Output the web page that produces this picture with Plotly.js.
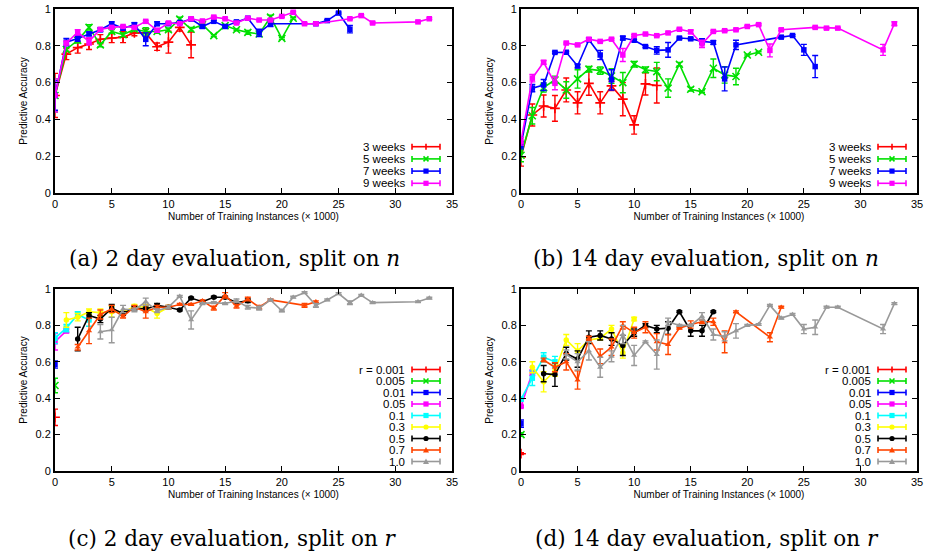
<!DOCTYPE html>
<html>
<head>
<meta charset="utf-8">
<script src="https://cdn.plot.ly/plotly-3.0.1.min.js"></script>
<style>html,body{margin:0;padding:0;background:#fff;}#chart{width:925px;height:554px;}</style>
</head>
<body>
<div id="chart"></div>
<script>
// ---------- tick labels ----------
const xTickVals = [0, 5, 10, 15, 20, 25, 30, 35];
const xTickText = ['0', '5', '10', '15', '20', '25', '30', '35'];
const yTickVals = [0, 0.2, 0.4, 0.6, 0.8, 1];
const yTickText = ['0', '0.2', '0.4', '0.6', '0.8', '1'];
const xTitle = 'Number of Training Instances (\u00d7 1000)';
const yTitle = 'Predictive Accuracy';
const captions = ['(a) 2 day evaluation, split on <i>n</i>', '(b) 14 day evaluation, split on <i>n</i>',
                  '(c) 2 day evaluation, split on <i>r</i>', '(d) 14 day evaluation, split on <i>r</i>'];
const weekNames = ['3 weeks', '5 weeks', '7 weeks', '9 weeks'];
const rNames = ['r = 0.001', '0.005', '0.01', '0.05', '0.1', '0.3', '0.5', '0.7', '1.0'];

// ---------- (a) 2 day, split on n ----------
const a3X = [0,1,2,3,4,5,6,7,8,9,10,11,12];
const a3Y = [0.53,0.755,0.79,0.81,0.836,0.842,0.847,0.87,0.87,0.795,0.82,0.90,0.805];
const a3E = [0.12,0.03,0.03,0.03,0.025,0.025,0.03,0.015,0.02,0.02,0.06,0.02,0.07];
const a5X = [0,1,2,3,4,5,6,7,8,9,10,11,12,13,14,15,16,17,18,19,20,21];
const a5Y = [0.53,0.78,0.83,0.90,0.805,0.878,0.86,0.89,0.878,0.878,0.887,0.945,0.89,0.915,0.855,0.91,0.887,0.873,0.864,0.956,0.84,0.95];
const a5E = [0.09,0.01,0.015,0.015,0.01,0.01,0.01,0.01,0.02,0.01,0.01,0.01,0.01,0.005,0.005,0.005,0.005,0.01,0.01,0.01,0.005,0.005];
const a7X = [0,1,2,3,4,5,6,7,8,9,10,11,12,13,14,15,16,17,18,19,23,24,25,26];
const a7Y = [0.53,0.82,0.84,0.865,0.887,0.92,0.896,0.915,0.835,0.92,0.92,0.927,0.945,0.905,0.933,0.905,0.93,0.95,0.87,0.92,0.92,0.937,0.978,0.89];
const a7E = [0.08,0.02,0.015,0.01,0.01,0.01,0.01,0.01,0.035,0.01,0.005,0.005,0.005,0.01,0.005,0.005,0.005,0.005,0.02,0.015,0.005,0.005,0.005,0.02];
const a9X = [0,1,2,3,4,5,6,7,8,9,10,11,12,13,14,15,16,17,18,19,20,21,22,23,26,27,28,32,33];
const a9Y = [0.53,0.815,0.873,0.824,0.89,0.9,0.905,0.9,0.933,0.884,0.924,0.92,0.947,0.935,0.956,0.947,0.924,0.95,0.94,0.94,0.96,0.982,0.92,0.92,0.947,0.964,0.924,0.93,0.947];
const a9E = [0.09,0.01,0.015,0.02,0.005,0.005,0.005,0.005,0.005,0.01,0.005,0.005,0.005,0.005,0.005,0.005,0.005,0.005,0.005,0.005,0.005,0.005,0.005,0.005,0.005,0.005,0.005,0.005,0.005];

// ---------- (b) 14 day, split on n ----------
const b3X = [0,1,2,3,4,5,6,7,8,9,10,11,12];
const b3Y = [0.196,0.424,0.473,0.46,0.56,0.49,0.596,0.49,0.582,0.51,0.37,0.593,0.584];
const b3E = [0.05,0.06,0.06,0.07,0.065,0.06,0.065,0.06,0.025,0.09,0.05,0.06,0.095];
const b5X = [0,1,2,3,4,5,6,7,8,9,10,11,12,13,14,15,16,17,18,19,20,21];
const b5Y = [0.205,0.42,0.573,0.615,0.56,0.62,0.673,0.665,0.636,0.6,0.7,0.67,0.66,0.57,0.7,0.564,0.55,0.678,0.642,0.633,0.75,0.765];
const b5E = [0.035,0.045,0.025,0.02,0.045,0.05,0.015,0.02,0.04,0.055,0.015,0.015,0.05,0.05,0.01,0.01,0.005,0.05,0.045,0.045,0.005,0.005];
const b7X = [0,1,2,3,4,5,6,7,8,9,10,11,12,13,14,15,16,17,18,19,23,24,25,26];
const b7Y = [0.26,0.57,0.587,0.764,0.765,0.69,0.833,0.75,0.615,0.842,0.83,0.796,0.775,0.778,0.842,0.838,0.824,0.818,0.62,0.805,0.847,0.856,0.778,0.687];
const b7E = [0.02,0.02,0.03,0.005,0.005,0.01,0.01,0.025,0.055,0.01,0.005,0.005,0.02,0.04,0.005,0.005,0.015,0.01,0.065,0.025,0.005,0.005,0.03,0.06];
const b9X = [0,1,2,3,4,5,6,7,8,9,10,11,12,13,14,15,16,17,18,19,20,21,22,23,26,27,28,32,33];
const b9Y = [0.28,0.624,0.71,0.596,0.815,0.805,0.836,0.824,0.836,0.75,0.856,0.864,0.855,0.87,0.89,0.876,0.81,0.878,0.882,0.887,0.905,0.915,0.775,0.887,0.9,0.896,0.896,0.778,0.92];
const b9E = [0.02,0.02,0.01,0.035,0.005,0.005,0.005,0.005,0.005,0.035,0.005,0.005,0.005,0.005,0.005,0.01,0.02,0.005,0.005,0.005,0.005,0.005,0.035,0.005,0.005,0.005,0.005,0.03,0.01];

// ---------- (c) 2 day, split on r ----------
const c001X = [0];  const c001Y = [0.295]; const c001E = [0.045];
const c005X = [0];  const c005Y = [0.47];  const c005E = [0.04];
const c01X = [0];   const c01Y = [0.585];  const c01E = [0.02];
const c05X = [0,1]; const c05Y = [0.71,0.77]; const c05E = [0.045,0.01];
const c1X = [0,1,2,3]; const c1Y = [0.73,0.785,0.86,0.83]; const c1E = [0.03,0.02,0.015,0.035];
const c3X = [1,2,3,4,5,6,7,8,9,10];
const c3Y = [0.83,0.845,0.875,0.87,0.875,0.87,0.905,0.9,0.865,0.9];
const c3E = [0.04,0.02,0.015,0.02,0.03,0.01,0.01,0.015,0.025,0.01];
const c5X = [2,3,4,5,6,7,8,9,10,11,12,13,14,15,16,17];
const c5Y = [0.725,0.855,0.835,0.895,0.865,0.895,0.89,0.91,0.9,0.885,0.95,0.93,0.955,0.955,0.925,0.935];
const c5E = [0.065,0.015,0.02,0.02,0.01,0.01,0.01,0.01,0.005,0.005,0.005,0.005,0.005,0.005,0.005,0.01];
const c7X = [2,3,4,5,6,7,8,9,10,11,12,13,14,15,16,17,18,19,22,23];
const c7Y = [0.68,0.77,0.86,0.89,0.85,0.9,0.875,0.9,0.9,0.915,0.915,0.935,0.895,0.965,0.905,0.945,0.9,0.94,0.91,0.93];
const c7E = [0.015,0.07,0.025,0.02,0.01,0.01,0.035,0.01,0.01,0.005,0.005,0.005,0.01,0.015,0.01,0.01,0.01,0.005,0.01,0.005];
const c10X = [4,5,6,7,8,9,10,11,12,13,14,15,16,17,18,19,20,21,22,23,24,25,26,27,28,32,33];
const c10Y = [0.765,0.775,0.89,0.885,0.93,0.88,0.9,0.96,0.83,0.92,0.925,0.92,0.935,0.9,0.895,0.94,0.88,0.955,0.98,0.91,0.94,0.975,0.925,0.965,0.925,0.93,0.95];
const c10E = [0.04,0.07,0.02,0.01,0.02,0.01,0.01,0.005,0.05,0.005,0.005,0.005,0.01,0.01,0.01,0.005,0.005,0.005,0.005,0.01,0.005,0.005,0.01,0.005,0.005,0.005,0.005];

// ---------- (d) 14 day, split on r ----------
const d001X = [0];  const d001Y = [0.095]; const d001E = [0.005];
const d005X = [0];  const d005Y = [0.2];   const d005E = [0.01];
const d01X = [0];   const d01Y = [0.26];   const d01E = [0.02];
const d05X = [0,1]; const d05Y = [0.355,0.54]; const d05E = [0.005,0.015];
const d1X = [0,1,2,3]; const d1Y = [0.395,0.51,0.625,0.6]; const d1E = [0.01,0.04,0.025,0.03];
const d3X = [1,2,3,4,5,6,7,8,9,10];
const d3Y = [0.57,0.49,0.55,0.72,0.66,0.72,0.73,0.78,0.65,0.835];
const d3E = [0.03,0.055,0.03,0.03,0.04,0.01,0.01,0.02,0.03,0.01];
const d5X = [2,3,4,5,6,7,8,9,10,11,12,13,14,15,16,17];
const d5Y = [0.535,0.53,0.645,0.615,0.735,0.745,0.725,0.69,0.76,0.8,0.78,0.785,0.875,0.77,0.77,0.875];
const d5E = [0.045,0.065,0.035,0.045,0.035,0.025,0.035,0.055,0.02,0.01,0.02,0.035,0.005,0.03,0.03,0.005];
const d7X = [2,3,4,5,6,7,8,9,10,11,12,13,14,15,16,17,18,19,22,23];
const d7Y = [0.61,0.57,0.6,0.5,0.73,0.63,0.68,0.8,0.76,0.79,0.71,0.695,0.785,0.805,0.82,0.82,0.71,0.875,0.735,0.9];
const d7E = [0.01,0.025,0.045,0.05,0.01,0.04,0.045,0.02,0.03,0.03,0.045,0.055,0.005,0.02,0.01,0.02,0.06,0.005,0.025,0.005];
const d10X = [4,5,6,7,8,9,10,11,12,13,14,15,16,17,18,19,20,21,22,23,24,25,26,27,28,32,33];
const d10Y = [0.64,0.6,0.66,0.57,0.63,0.75,0.635,0.71,0.64,0.82,0.8,0.8,0.85,0.75,0.74,0.77,0.8,0.805,0.91,0.84,0.86,0.78,0.79,0.9,0.9,0.78,0.92];
const d10E = [0.025,0.045,0.05,0.055,0.03,0.05,0.055,0.005,0.08,0.02,0.005,0.005,0.02,0.03,0.025,0.04,0.005,0.005,0.005,0.005,0.005,0.025,0.04,0.005,0.005,0.025,0.005];

// ---------- styles ----------
const weekColors = ['#ff0000', '#00e000', '#0000ff', '#ff00ff'];
const weekSymbols = ['plus', 'x', 'square', 'square'];
const rColors = ['#ff0000', '#00e000', '#0000ff', '#ff00ff', '#00ffff', '#ffff00', '#000000', '#ff4500', '#999999'];
const rSymbols = ['plus', 'x', 'square', 'square', 'square', 'circle', 'circle', 'triangle', 'triangle'];

const W = 925, H = 554;
const xDomA = [55 / W, 452 / W], xDomB = [521 / W, 917 / W];
const yDomTop = [1 - 193 / H, 1 - 9 / H], yDomBot = [1 - 471 / H, 1 - 289 / H];
const FONT = 'Liberation Sans, Arial, sans-serif';

const plotlySym = {plus: 'cross-thin-open', x: 'x-thin-open', square: 'square', circle: 'circle', triangle: 'triangle-up'};

function mkTrace(x, y, e, color, sym, xa, ya) {
  const open = (sym === 'plus' || sym === 'x');
  return {
    type: 'scatter', mode: 'lines+markers', x: x, y: y, xaxis: xa, yaxis: ya,
    line: {color: color, width: 1.6},
    marker: {color: color, symbol: plotlySym[sym], size: open ? 7 : 5.5, line: {color: color, width: open ? 1.6 : 0}},
    error_y: {type: 'data', array: e, visible: true, color: color, thickness: 1.4, width: 3},
    showlegend: false, hoverinfo: 'skip'
  };
}

const traces = [];
const aSets = [[a3X, a3Y, a3E], [a5X, a5Y, a5E], [a7X, a7Y, a7E], [a9X, a9Y, a9E]];
const bSets = [[b3X, b3Y, b3E], [b5X, b5Y, b5E], [b7X, b7Y, b7E], [b9X, b9Y, b9E]];
const cSets = [[c001X, c001Y, c001E], [c005X, c005Y, c005E], [c01X, c01Y, c01E], [c05X, c05Y, c05E], [c1X, c1Y, c1E],
               [c3X, c3Y, c3E], [c5X, c5Y, c5E], [c7X, c7Y, c7E], [c10X, c10Y, c10E]];
const dSets = [[d001X, d001Y, d001E], [d005X, d005Y, d005E], [d01X, d01Y, d01E], [d05X, d05Y, d05E], [d1X, d1Y, d1E],
               [d3X, d3Y, d3E], [d5X, d5Y, d5E], [d7X, d7Y, d7E], [d10X, d10Y, d10E]];
aSets.forEach((s, i) => traces.push(mkTrace(s[0], s[1], s[2], weekColors[i], weekSymbols[i], 'x', 'y')));
bSets.forEach((s, i) => traces.push(mkTrace(s[0], s[1], s[2], weekColors[i], weekSymbols[i], 'x2', 'y2')));
cSets.forEach((s, i) => traces.push(mkTrace(s[0], s[1], s[2], rColors[i], rSymbols[i], 'x3', 'y3')));
dSets.forEach((s, i) => traces.push(mkTrace(s[0], s[1], s[2], rColors[i], rSymbols[i], 'x4', 'y4')));

function xAxis(dom, anchor) {
  return {
    domain: dom, anchor: anchor, range: [0, 35], tickmode: 'array', tickvals: xTickVals, ticktext: xTickText,
    ticks: 'inside', ticklen: 5, tickwidth: 1.2, tickcolor: '#000', showline: true, linecolor: '#000', linewidth: 2,
    mirror: 'ticks', showgrid: false, zeroline: false, tickfont: {family: FONT, size: 11, color: '#000'},
    title: {text: xTitle, font: {family: FONT, size: 10, color: '#000'}, standoff: 4}
  };
}
function yAxis(dom, anchor) {
  return {
    domain: dom, anchor: anchor, range: [0, 1], tickmode: 'array', tickvals: yTickVals, ticktext: yTickText,
    ticks: 'inside', ticklen: 5, tickwidth: 1.2, tickcolor: '#000', showline: true, linecolor: '#000', linewidth: 2,
    mirror: 'ticks', showgrid: false, zeroline: false, tickfont: {family: FONT, size: 11, color: '#000'},
    title: {text: yTitle, font: {family: FONT, size: 10, color: '#000'}, standoff: 6}
  };
}

const shapes = [];
const annotations = [];

// custom gnuplot-style legend: text right-aligned, sample (line + caps + point) on the right
function addLegend(xa, ya, names, colors, syms, plotW, plotH, bottomPx, stepPx) {
  const xr = xa + ' domain', yr = ya + ' domain';
  const textRight = 352 / plotW, s0 = 357 / plotW, s1 = 385 / plotW, sc = 371 / plotW;
  const dx = 1 / plotW, dy = 1 / plotH;
  const n = names.length;
  names.forEach((nm, i) => {
    const yPx = bottomPx + (n - 1 - i) * stepPx;
    const yc = yPx / plotH;
    const col = colors[i];
    annotations.push({xref: xr, yref: yr, x: textRight, y: yc, xanchor: 'right', yanchor: 'middle',
      text: nm, showarrow: false, font: {family: FONT, size: 11.5, color: '#000'}});
    const ln = {color: col, width: 1.6};
    shapes.push({type: 'line', xref: xr, yref: yr, x0: s0, x1: s1, y0: yc, y1: yc, line: ln});
    shapes.push({type: 'line', xref: xr, yref: yr, x0: s0, x1: s0, y0: yc - 3 * dy, y1: yc + 3 * dy, line: ln});
    shapes.push({type: 'line', xref: xr, yref: yr, x0: s1, x1: s1, y0: yc - 3 * dy, y1: yc + 3 * dy, line: ln});
    const s = syms[i];
    const r = 2.6;
    if (s === 'square') {
      shapes.push({type: 'rect', xref: xr, yref: yr, x0: sc - r * dx, x1: sc + r * dx, y0: yc - r * dy, y1: yc + r * dy,
        fillcolor: col, line: {width: 0}});
    } else if (s === 'circle') {
      shapes.push({type: 'circle', xref: xr, yref: yr, x0: sc - r * dx, x1: sc + r * dx, y0: yc - r * dy, y1: yc + r * dy,
        fillcolor: col, line: {width: 0}});
    } else if (s === 'triangle') {
      const p = 'M' + (sc - 3 * dx) + ',' + (yc - 2.5 * dy) + ' L' + (sc + 3 * dx) + ',' + (yc - 2.5 * dy) + ' L' + sc + ',' + (yc + 3 * dy) + ' Z';
      shapes.push({type: 'path', xref: xr, yref: yr, path: p, fillcolor: col, line: {width: 0}});
    } else if (s === 'plus') {
      shapes.push({type: 'line', xref: xr, yref: yr, x0: sc, x1: sc, y0: yc - 3 * dy, y1: yc + 3 * dy, line: ln});
    } else if (s === 'x') {
      const p = 'M' + (sc - 2.5 * dx) + ',' + (yc - 2.5 * dy) + ' L' + (sc + 2.5 * dx) + ',' + (yc + 2.5 * dy) +
                ' M' + (sc - 2.5 * dx) + ',' + (yc + 2.5 * dy) + ' L' + (sc + 2.5 * dx) + ',' + (yc - 2.5 * dy);
      shapes.push({type: 'path', xref: xr, yref: yr, path: p, line: ln});
    }
  });
}
const pwA = (xDomA[1] - xDomA[0]) * W, pwB = (xDomB[1] - xDomB[0]) * W;
const phT = (yDomTop[1] - yDomTop[0]) * H, phB = (yDomBot[1] - yDomBot[0]) * H;
addLegend('x', 'y', weekNames, weekColors, weekSymbols, pwA, phT, 9.7, 12.2);
addLegend('x2', 'y2', weekNames, weekColors, weekSymbols, pwB, phT, 9.7, 12.2);
addLegend('x3', 'y3', rNames, rColors, rSymbols, pwA, phB, 9.5, 11.5);
addLegend('x4', 'y4', rNames, rColors, rSymbols, pwB, phB, 9.5, 11.5);

// captions
const capPos = [[234, 258], [706, 258], [232, 538], [707, 538]];
captions.forEach((c, i) => {
  annotations.push({xref: 'paper', yref: 'paper', x: capPos[i][0] / W, y: 1 - capPos[i][1] / H, xanchor: 'center', yanchor: 'middle',
    text: c, showarrow: false, font: {family: 'DejaVu Serif, Liberation Serif, serif', size: 21.5, color: '#000'}});
});

const layout = {
  width: W, height: H, margin: {l: 0, r: 0, t: 0, b: 0}, paper_bgcolor: '#fff', plot_bgcolor: '#fff',
  showlegend: false, font: {family: FONT, color: '#000'},
  xaxis: xAxis(xDomA, 'y'), yaxis: yAxis(yDomTop, 'x'),
  xaxis2: xAxis(xDomB, 'y2'), yaxis2: yAxis(yDomTop, 'x2'),
  xaxis3: xAxis(xDomA, 'y3'), yaxis3: yAxis(yDomBot, 'x3'),
  xaxis4: xAxis(xDomB, 'y4'), yaxis4: yAxis(yDomBot, 'x4'),
  shapes: shapes, annotations: annotations
};
Plotly.newPlot('chart', traces, layout, {staticPlot: true, displayModeBar: false});
</script>
</body>
</html>
